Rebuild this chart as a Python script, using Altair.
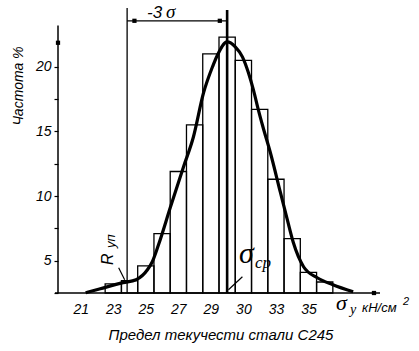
import altair as alt
import pandas as pd

# ---- data ----
bin_centers = [23, 24, 25, 26, 27, 28, 29, 30, 31, 32, 33, 34, 35, 36]
bin_freq = [3.2, 3.45, 4.6, 7.1, 11.9, 15.5, 21.0, 22.3, 20.5, 16.7, 11.3, 6.7, 4.1, 3.35]

curve_x = [21.3, 22.2, 23.6, 24.4, 25.1, 25.4, 25.78, 26.52, 27.32, 27.93, 28.55, 29.1,
           29.4, 30.0, 30.5, 30.94, 31.31, 31.62, 31.92, 32.2, 32.66, 33.28, 33.7, 34.07,
           34.7, 35.54, 36.5, 37.75]
curve_y = [2.52, 2.83, 3.3, 3.53, 4.3, 4.92, 6.23, 9.17, 12.27, 14.59, 17.99, 20.0,
           20.9, 21.93, 21.55, 20.77, 19.54, 18.2, 16.67, 15.36, 13.35, 10.26, 8.17, 6.4,
           4.53, 3.68, 3.14, 2.6]

x_tick_values = [21, 23, 25, 27, 29, 31, 33, 35]
x_tick_labels = ["21", "23", "25", "27", "29", "30", "33", "35"]
y_tick_values = [2.5, 5, 7.5, 10, 12.5, 15, 17.5, 20]

mean_value = 30.0
minus3_value = 23.85

X_DOM = [19.6, 39.4]
Y_DOM = [2.5, 24.55]
BASE = 2.5

SANS = "Liberation Sans"
SERIF = "Liberation Serif"

xs = alt.Scale(domain=X_DOM, nice=False, zero=False)
ys = alt.Scale(domain=Y_DOM, nice=False, zero=False)

lab_expr = "[" + ",".join("'%s'" % s for s in x_tick_labels) + "][indexof([" + \
    ",".join(str(v) for v in x_tick_values) + "], datum.value)]"

bars_df = pd.DataFrame({"c": bin_centers, "f": bin_freq})
bars = alt.Chart(bars_df).transform_calculate(
    lo="datum.c - 0.5", hi="datum.c + 0.5", b=str(BASE)
).mark_rect(fill="white", fillOpacity=0, stroke="black", strokeWidth=1.3).encode(
    x=alt.X("lo:Q", scale=xs, axis=alt.Axis(values=x_tick_values, labelExpr=lab_expr,
            ticks=False, domain=False, grid=False, labelPadding=9, labelFont=SANS,
            labelFontStyle="italic", labelFontSize=14, labelColor="black", title=None)),
    x2="hi:Q",
    y=alt.Y("f:Q", scale=ys, axis=alt.Axis(values=y_tick_values,
            labelExpr="datum.value % 5 == 0 ? format(datum.value, 'd') : ''",
            domain=False, grid=False, tickSize=4, tickWidth=1.2, tickColor="black",
            labelPadding=3, labelFont=SANS, labelFontStyle="italic", labelFontSize=14,
            labelColor="black", title=None)),
    y2="b:Q",
)

curve_df = pd.DataFrame({"x": curve_x, "y": curve_y})
curve = alt.Chart(curve_df).mark_line(color="black", strokeWidth=3.2, interpolate="monotone").encode(
    x=alt.X("x:Q", scale=xs), y=alt.Y("y:Q", scale=ys)
)

def rule(x1, y1, x2, y2, w=1.3):
    return alt.Chart(pd.DataFrame({"a": [0]})).mark_rule(color="black", strokeWidth=w).encode(
        x=alt.datum(x1, scale=xs),
        y=alt.datum(y1, scale=ys),
        x2=alt.datum(x2),
        y2=alt.datum(y2),
    )

# axis lines
y_axis_line = alt.Chart(pd.DataFrame({"a": [0]})).mark_rule(color="black", strokeWidth=1.5).encode(
    x=alt.value(0), y=alt.datum(23.2, scale=ys), y2=alt.datum(BASE))
x_axis_line = alt.Chart(pd.DataFrame({"a": [0]})).mark_rule(color="black", strokeWidth=1.5).encode(
    x=alt.value(-3), x2=alt.value(322), y=alt.datum(BASE, scale=ys))

minus3_line = rule(minus3_value, 24.55, minus3_value, BASE, 1.3)
mean_line = rule(mean_value, 24.4, mean_value, BASE, 2.6)
span_line = rule(minus3_value, 23.56, mean_value, 23.56, 1.3)
r_leader = rule(23.33, 4.45, 23.7, 3.53, 1.2)
s_leader = rule(30.94, 3.76, 30.08, 2.75, 1.2)

sq_df = pd.DataFrame({"x": [24.3, 29.55, 19.6, 39.03], "y": [23.56, 23.56, 21.86, BASE]})
squares = alt.Chart(sq_df).mark_point(shape="square", filled=True, color="black", size=18, opacity=1).encode(
    x=alt.X("x:Q", scale=xs), y=alt.Y("y:Q", scale=ys))

def txt(t, px, py, size, font=SANS, angle=0, align="left", baseline="alphabetic"):
    return alt.Chart(pd.DataFrame({"a": [0]})).mark_text(
        text=t, font=font, fontSize=size, fontStyle="italic", color="black",
        angle=angle, align=align, baseline=baseline
    ).encode(x=alt.value(px), y=alt.value(py))

texts = [
    txt("-3", 89, 10, 17),
    txt("σ", 108, 10, 19, SERIF),
    txt("σ", 181, 255, 30, SERIF),
    txt("cp", 197, 260, 17, SERIF),
    txt("R", 55, 257, 16, angle=270),
    txt("уп", 57, 240, 13, angle=270),
    txt("σ", 278, 302, 22, SERIF),
    txt("y", 292, 306, 14, SERIF),
    txt("кН/см", 304, 304, 13),
    txt("2", 345, 297, 11),
    txt("Предел текучести стали С245", 163, 332, 15, align="center"),
    txt("Частота %", -35, 78, 14, angle=270, align="center"),
]

chart = alt.layer(
    bars, minus3_line, span_line, mean_line, curve, y_axis_line, x_axis_line,
    r_leader, s_leader, squares, *texts
).properties(
    width=322, height=285,
    autosize=alt.AutoSizeParams(type="none"),
    padding={"left": 58, "top": 8, "right": 39, "bottom": 58},
    background="white",
).configure_view(stroke=None)

chart.save("out.html", embed_options={"renderer": "svg", "actions": False})
